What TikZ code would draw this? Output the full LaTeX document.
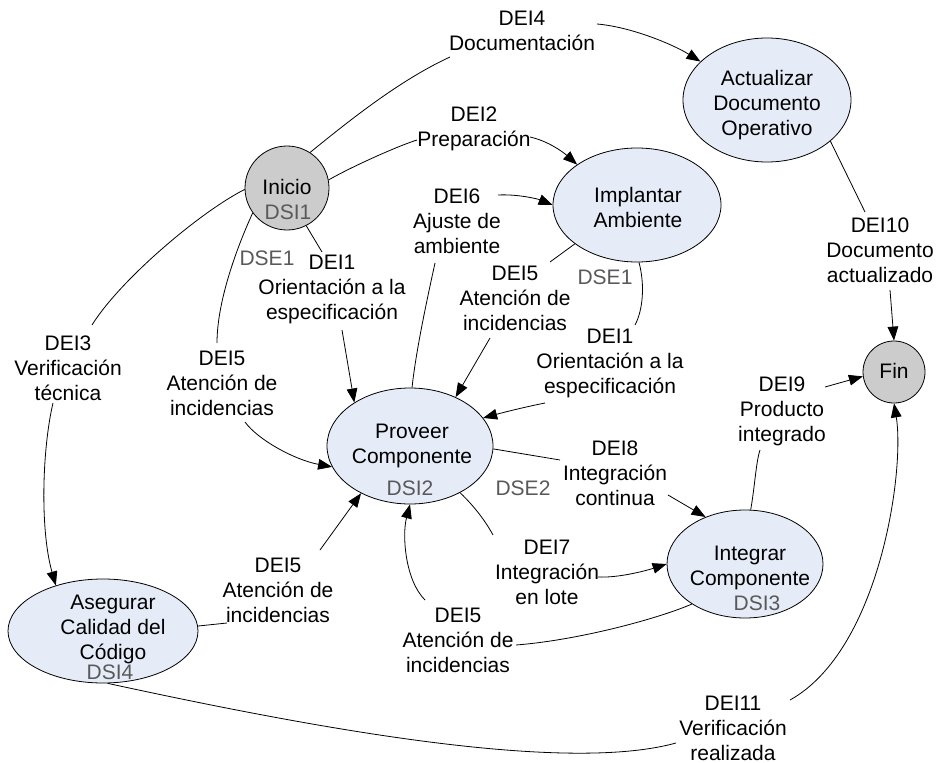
\documentclass[tikz,border=0pt]{standalone}
\usepackage{fontspec}
\setmainfont{Liberation Sans}
\usetikzlibrary{shapes.geometric,arrows.meta}
\definecolor{procfill}{HTML}{E6ECF7}
\definecolor{termfill}{HTML}{CCCCCC}
\definecolor{storegray}{HTML}{595959}

\begin{document}
\begin{tikzpicture}[x=0.75pt,y=-0.75pt,
  every node/.style={font=\fontsize{15.75}{18.75}\selectfont, inner sep=0pt, align=center},
  proc/.style={ellipse, draw, fill=procfill, line width=0.6pt},
  term/.style={circle, draw, fill=termfill, line width=0.6pt},
  store/.style={text=storegray},
  flow/.style={line width=0.6pt},
  flowarrow/.style={flow, -{Triangle[length=10.5pt,width=8pt]}}
]
\useasboundingbox (0,0) rectangle (938,763);

% processes and terminals
\node[term, minimum size=63pt] (ini) at (287,188) {};
\node (ini-t) at (287,187) {Inicio};
\node[store] (ini-s) at (288,212) {DSI1};

\node[proc, minimum width=126pt, minimum height=93pt] (act) at (767,100) {};
\node (act-t) at (767,105) {Actualizar\\Documento\\Operativo};

\node[proc, minimum width=126pt, minimum height=85.5pt] (imp) at (637,205) {};
\node (imp-t) at (638,207) {Implantar\\Ambiente};

\node[proc, minimum width=124.5pt, minimum height=87pt] (prov) at (410,446) {};
\node (prov-t) at (412,446) {Proveer\\Componente};
\node[store] (prov-s) at (410,488) {DSI2};

\node[proc, minimum width=117pt, minimum height=81pt] (integ) at (745,564) {};
\node (integ-t) at (750,568) {Integrar\\Componente};
\node[store] (integ-s) at (757,603) {DSI3};

\node[proc, minimum width=142.5pt, minimum height=78pt] (aseg) at (103,631) {};
\node (aseg-t) at (113,629) {Asegurar\\Calidad del\\Código};
\node[store] (aseg-s) at (110,672) {DSI4};

\node[term, minimum size=46.5pt] (fin) at (894,372) {};
\node (fin-t) at (894,371) {Fin};

% flow labels
\node (l4) at (522,31) {DEI4\\Documentación};
\node (l2) at (474,129) {DEI2\\Preparación};
\node (l6) at (457,221) {DEI6\\Ajuste de\\ambiente};
\node (l1a) at (332,289) {DEI1\\Orientación a la\\especificación};
\node (l5a) at (222,383) {DEI5\\Atención de\\incidencias};
\node (l3) at (68,368) {DEI3\\Verificación\\técnica};
\node (l5b) at (515,298) {DEI5\\Atención de\\incidencias};
\node (l1b) at (610,363) {DEI1\\Orientación a la\\especificación};
\node (l10) at (880,250) {DEI10\\Documento\\actualizado};
\node (l9) at (782,411) {DEI9\\Producto\\integrado};
\node (l8) at (615,473) {DEI8\\Integración\\continua};
\node (l7) at (547,572) {DEI7\\Integración\\en lote};
\node (l5c) at (458,640) {DEI5\\Atención de\\incidencias};
\node (l5d) at (278,590) {DEI5\\Atención de\\incidencias};
\node (l11) at (733,728) {DEI11\\Verificación\\realizada};
\node[store] (dse1a) at (267,258) {DSE1};
\node[store] (dse1b) at (605,277) {DSE1};
\node[store] (dse2) at (523,488) {DSE2};

% connector ends beside the labels
\coordinate (c4a) at (450,57);   \coordinate (c4b) at (597,24);
\coordinate (c2a) at (417,140);  \coordinate (c2b) at (530,137);
\coordinate (c6a) at (435,263);  \coordinate (c6b) at (498,195);
\coordinate (c1a) at (322,252);  \coordinate (c1b) at (342,330);
\coordinate (c5a) at (217,343);  \coordinate (c5b) at (245,422);
\coordinate (c3a) at (92,325);   \coordinate (c3b) at (53,403);
\coordinate (c5bA) at (550,262); \coordinate (c5bB) at (490,338);
\coordinate (c1bA) at (635,325); \coordinate (c1bB) at (545,403);
\coordinate (c10a) at (865,212); \coordinate (c10b) at (890,290);
\coordinate (c9a) at (760,450);  \coordinate (c9b) at (825,387);
\coordinate (c8a) at (560,460);  \coordinate (c8b) at (668,495);
\coordinate (c7a) at (493,535);  \coordinate (c7b) at (598,577);
\coordinate (c5cA) at (516,645); \coordinate (c5cB) at (425,600);
\coordinate (c5dA) at (227,623); \coordinate (c5dB) at (320,550);
\coordinate (c11a) at (676,743); \coordinate (c11b) at (790,700);

% DEI4
\draw[flow] (ini.57) .. controls (350,120) and (400,80) .. (c4a);
\draw[flowarrow] (c4b) .. controls (632,27) and (674,45) .. (act.150);
% DEI2
\draw[flow] (ini.11) .. controls (353,166) and (398,146) .. (c2a);
\draw[flowarrow] (c2b) .. controls (548,141) and (563,152) .. (imp.146);
% DEI6
\draw[flow] (prov.88) .. controls (416,350) and (428,295) .. (c6a);
\draw[flowarrow] (c6b) .. controls (518,194) and (538,199) .. (imp.180);
% DEI1 (from Inicio)
\draw[flow] (ini.297) -- (c1a);
\draw[flowarrow] (c1b) -- (prov.142);
% DEI5 (from Inicio)
\draw[flow] (ini.216) .. controls (238,245) and (217,300) .. (c5a);
\draw[flowarrow] (c5b) .. controls (258,440) and (295,460) .. (prov.195);
% DEI3
\draw[flow] (ini.182) .. controls (200,212) and (120,280) .. (c3a);
\draw[flowarrow] (c3b) .. controls (42,450) and (40,530) .. (aseg.136);
% DEI5 (from Implantar)
\draw[flow] (imp.212) -- (c5bA);
\draw[flowarrow] (c5bB) -- (prov.47);
% DEI1 (from Implantar)
\draw[flow] (imp.272) .. controls (645,285) and (643,310) .. (c1bA);
\draw[flowarrow] (c1bB) .. controls (525,407) and (505,412) .. (prov.21);
% DEI10
\draw[flow] (act.327) -- (c10a);
\draw[flowarrow] (c10b) -- (fin.90);
% DEI9
\draw[flow] (integ.84) .. controls (755,485) and (756,462) .. (c9a);
\draw[flowarrow] (c9b) -- (fin.188);
% DEI8
\draw[flow] (prov.358) -- (c8a);
\draw[flowarrow] (c8b) -- (integ.130);
% DEI7
\draw[flow] (prov.317) .. controls (475,507) and (486,522) .. (c7a);
\draw[flowarrow] (c7b) .. controls (618,578) and (645,571) .. (integ.180);
% DEI5 (from Integrar)
\draw[flow] (integ.217) .. controls (660,618) and (580,640) .. (c5cA);
\draw[flowarrow] (c5cB) .. controls (405,580) and (402,535) .. (prov.270);
% DEI5 (from Asegurar)
\draw[flow] (aseg.3) -- (c5dA);
\draw[flowarrow] (c5dB) -- (prov.224);
% DEI11
\draw[flow] (aseg.275) .. controls (300,725) and (560,775) .. (c11a);
\draw[flowarrow] (c11b) .. controls (880,650) and (905,470) .. (fin.270);
\end{tikzpicture}
\end{document}
